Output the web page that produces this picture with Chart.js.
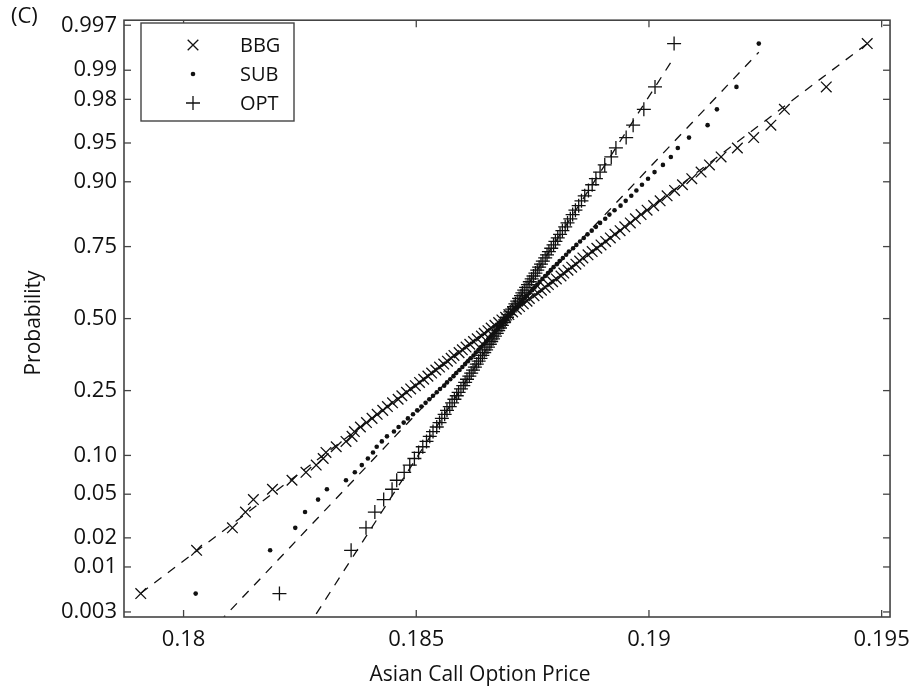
<!DOCTYPE html>
<html>
<head>
<meta charset="utf-8">
<script src="https://cdn.jsdelivr.net/npm/chart.js@4.4.1/dist/chart.umd.min.js"></script>
<style>
  body { margin: 0; background: #fff; }
  #wrap { width: 920px; height: 691px; }
</style>
</head>
<body>
<div id="wrap"><canvas id="probChart" width="920" height="691"></canvas></div>
<script>
// Sorted sample values (100 per method)
const bbgValues = [
  0.17908, 0.18028, 0.18105, 0.18133, 0.18150, 0.18191, 0.18233, 0.18263, 0.18285, 0.18300,
  0.18306, 0.18328, 0.18349, 0.18362, 0.18367, 0.18380, 0.18393, 0.18405, 0.18416, 0.18428,
  0.18438, 0.18449, 0.18461, 0.18469, 0.18479, 0.18488, 0.18498, 0.18507, 0.18516, 0.18525,
  0.18533, 0.18542, 0.18550, 0.18559, 0.18567, 0.18575, 0.18581, 0.18592, 0.18599, 0.18607,
  0.18615, 0.18623, 0.18631, 0.18640, 0.18646, 0.18654, 0.18661, 0.18669, 0.18677, 0.18684,
  0.18692, 0.18699, 0.18707, 0.18715, 0.18722, 0.18730, 0.18738, 0.18743, 0.18753, 0.18761,
  0.18769, 0.18777, 0.18784, 0.18793, 0.18801, 0.18811, 0.18817, 0.18826, 0.18834, 0.18843,
  0.18851, 0.18858, 0.18869, 0.18878, 0.18888, 0.18897, 0.18907, 0.18917, 0.18927, 0.18938,
  0.18948, 0.18960, 0.18971, 0.18983, 0.18996, 0.19010, 0.19024, 0.19039, 0.19055, 0.19072,
  0.19092, 0.19112, 0.19130, 0.19155, 0.19190, 0.19225, 0.19262, 0.19291, 0.19381, 0.19469
];
const subValues = [
  0.18026, 0.18186, 0.18240, 0.18261, 0.18289, 0.18308, 0.18349, 0.18368, 0.18383, 0.18396,
  0.18407, 0.18415, 0.18426, 0.18437, 0.18452, 0.18462, 0.18473, 0.18482, 0.18493, 0.18502,
  0.18511, 0.18520, 0.18528, 0.18536, 0.18544, 0.18551, 0.18560, 0.18566, 0.18573, 0.18580,
  0.18586, 0.18593, 0.18599, 0.18605, 0.18611, 0.18617, 0.18623, 0.18628, 0.18634, 0.18639,
  0.18645, 0.18650, 0.18655, 0.18661, 0.18666, 0.18671, 0.18676, 0.18681, 0.18687, 0.18692,
  0.18696, 0.18701, 0.18707, 0.18712, 0.18717, 0.18722, 0.18727, 0.18733, 0.18738, 0.18743,
  0.18749, 0.18754, 0.18760, 0.18765, 0.18771, 0.18777, 0.18783, 0.18789, 0.18795, 0.18802,
  0.18808, 0.18815, 0.18822, 0.18828, 0.18837, 0.18844, 0.18852, 0.18860, 0.18868, 0.18877,
  0.18886, 0.18895, 0.18906, 0.18915, 0.18926, 0.18939, 0.18950, 0.18962, 0.18973, 0.18985,
  0.18998, 0.19012, 0.19030, 0.19047, 0.19062, 0.19086, 0.19126, 0.19146, 0.19188, 0.19236
];
const optValues = [
  0.18206, 0.18360, 0.18392, 0.18411, 0.18430, 0.18448, 0.18458, 0.18474, 0.18486, 0.18496,
  0.18505, 0.18514, 0.18522, 0.18529, 0.18536, 0.18544, 0.18550, 0.18555, 0.18561, 0.18566,
  0.18572, 0.18577, 0.18582, 0.18587, 0.18591, 0.18596, 0.18601, 0.18605, 0.18609, 0.18614,
  0.18618, 0.18622, 0.18626, 0.18630, 0.18634, 0.18638, 0.18642, 0.18646, 0.18650, 0.18654,
  0.18658, 0.18661, 0.18665, 0.18669, 0.18673, 0.18676, 0.18680, 0.18684, 0.18688, 0.18691,
  0.18695, 0.18698, 0.18702, 0.18706, 0.18710, 0.18713, 0.18717, 0.18721, 0.18725, 0.18728,
  0.18732, 0.18736, 0.18740, 0.18744, 0.18748, 0.18752, 0.18756, 0.18760, 0.18764, 0.18768,
  0.18772, 0.18777, 0.18781, 0.18785, 0.18790, 0.18795, 0.18799, 0.18804, 0.18809, 0.18814,
  0.18820, 0.18825, 0.18831, 0.18836, 0.18842, 0.18849, 0.18855, 0.18862, 0.18870, 0.18878,
  0.18886, 0.18895, 0.18905, 0.18919, 0.18929, 0.18951, 0.18966, 0.18989, 0.19013, 0.19054
];

const seriesNames = ['BBG', 'SUB', 'OPT'];
const yTickProbs = [0.003, 0.01, 0.02, 0.05, 0.10, 0.25, 0.50, 0.75, 0.90, 0.95, 0.98, 0.99, 0.997];
const yTickLabels = ['0.003', '0.01', '0.02', '0.05', '0.10', '0.25', '0.50', '0.75', '0.90', '0.95', '0.98', '0.99', '0.997'];
const xTicks = [0.18, 0.185, 0.19, 0.195];
const xTickLabels = ['0.18', '0.185', '0.19', '0.195'];

const FONT = "'Open Sans', 'DejaVu Sans', sans-serif";
const INK = '#111';

// inverse normal cdf (Acklam)
function probit(p) {
  const a = [-3.969683028665376e+01, 2.209460984245205e+02, -2.759285104469687e+02, 1.383577518672690e+02, -3.066479806614716e+01, 2.506628277459239e+00];
  const b = [-5.447609879822406e+01, 1.615858368580409e+02, -1.556989798598866e+02, 6.680131188771972e+01, -1.328068155288572e+01];
  const c = [-7.784894002430293e-03, -3.223964580411365e-01, -2.400758277161838e+00, -2.549732539343734e+00, 4.374664141464968e+00, 2.938163982698783e+00];
  const d = [7.784695709041462e-03, 3.224671290700398e-01, 2.445134137142996e+00, 3.754408661907416e+00];
  const pl = 0.02425;
  if (p < pl) {
    const q = Math.sqrt(-2 * Math.log(p));
    return (((((c[0]*q+c[1])*q+c[2])*q+c[3])*q+c[4])*q+c[5]) / ((((d[0]*q+d[1])*q+d[2])*q+d[3])*q+1);
  }
  if (p > 1 - pl) {
    const q = Math.sqrt(-2 * Math.log(1 - p));
    return -(((((c[0]*q+c[1])*q+c[2])*q+c[3])*q+c[4])*q+c[5]) / ((((d[0]*q+d[1])*q+d[2])*q+d[3])*q+1);
  }
  const q = p - 0.5, r = q * q;
  return (((((a[0]*r+a[1])*r+a[2])*r+a[3])*r+a[4])*r+a[5])*q / (((((b[0]*r+b[1])*r+b[2])*r+b[3])*r+b[4])*r+1);
}

// plotting positions (i-0.5)/n on the probit scale
function toPoints(values) {
  const n = values.length;
  return values.map((v, i) => ({ x: v, y: probit((i + 0.5) / n) }));
}

// reference line through the 1st and 3rd quartiles, spanning the data range
function quartileLine(values) {
  const n = values.length;
  const pct = (p) => {
    const pos = p * n - 0.5;
    const lo = Math.floor(pos), f = pos - lo;
    return values[lo] * (1 - f) + values[lo + 1] * f;
  };
  const q1 = pct(0.25), q3 = pct(0.75);
  const z1 = probit(0.25), z3 = probit(0.75);
  const k = (z3 - z1) / (q3 - q1);
  const xa = values[0], xb = values[n - 1];
  return [{ x: xa, y: z1 + (xa - q1) * k }, { x: xb, y: z1 + (xb - q1) * k }];
}

const markers = [
  { style: 'crossRot', radius: 7.5, width: 1.3 },
  { style: 'circle', radius: 2.3, width: 0 },
  { style: 'cross', radius: 7, width: 1.3 }
];
const allValues = [bbgValues, subValues, optValues];

const datasets = [];
allValues.forEach((vals, i) => {
  datasets.push({
    label: seriesNames[i] + ' fit',
    data: quartileLine(vals),
    showLine: true,
    borderColor: INK,
    borderWidth: 1.3,
    borderDash: [9, 8],
    pointRadius: 0,
    fill: false
  });
});
allValues.forEach((vals, i) => {
  datasets.push({
    label: seriesNames[i],
    data: toPoints(vals),
    pointStyle: markers[i].style,
    pointRadius: markers[i].radius,
    pointBorderWidth: markers[i].width,
    pointBorderColor: INK,
    pointBackgroundColor: INK,
    showLine: false
  });
});

function strokeLine(ctx, x1, y1, x2, y2) {
  ctx.beginPath();
  ctx.moveTo(x1, y1);
  ctx.lineTo(x2, y2);
  ctx.stroke();
}

function drawMarker(ctx, style, x, y, r) {
  ctx.beginPath();
  if (style === 'circle') {
    ctx.arc(x, y, r, 0, Math.PI * 2);
    ctx.fill();
    return;
  }
  if (style === 'cross') {
    ctx.moveTo(x - r, y); ctx.lineTo(x + r, y);
    ctx.moveTo(x, y - r); ctx.lineTo(x, y + r);
  } else {
    const h = r * Math.SQRT1_2;
    ctx.moveTo(x - h, y - h); ctx.lineTo(x + h, y + h);
    ctx.moveTo(x - h, y + h); ctx.lineTo(x + h, y - h);
  }
  ctx.stroke();
}

const framePlugin = {
  id: 'frame',
  afterDraw(chart) {
    const { ctx, chartArea: a, scales } = chart;
    ctx.save();
    ctx.strokeStyle = '#444';
    ctx.lineWidth = 1.6;
    ctx.strokeRect(a.left, a.top, a.right - a.left, a.bottom - a.top);

    // inward ticks on all four sides
    ctx.lineWidth = 1.3;
    scales.y.ticks.forEach(t => {
      const py = scales.y.getPixelForValue(t.value);
      strokeLine(ctx, a.left, py, a.left + 7, py);
      strokeLine(ctx, a.right, py, a.right - 7, py);
    });
    scales.x.ticks.forEach(t => {
      const px = scales.x.getPixelForValue(t.value);
      strokeLine(ctx, px, a.bottom, px, a.bottom - 7);
      strokeLine(ctx, px, a.top, px, a.top + 7);
    });

    // legend box
    const lx = 141, ly = 23, lw = 153, lh = 98;
    ctx.fillStyle = '#fff';
    ctx.fillRect(lx, ly, lw, lh);
    ctx.strokeStyle = '#444';
    ctx.lineWidth = 1.4;
    ctx.strokeRect(lx, ly, lw, lh);
    ctx.font = '20px ' + FONT;
    ctx.textBaseline = 'middle';
    ctx.textAlign = 'left';
    seriesNames.forEach((name, i) => {
      const yy = ly + 22 + i * 29;
      ctx.strokeStyle = INK;
      ctx.fillStyle = INK;
      ctx.lineWidth = 1.3;
      drawMarker(ctx, markers[i].style, lx + 52, yy, markers[i].radius);
      ctx.fillText(name, lx + 99, yy + 1);
    });

    // axis titles and panel label
    ctx.fillStyle = INK;
    ctx.font = '21px ' + FONT;
    ctx.textAlign = 'center';
    ctx.fillText('Asian Call Option Price', 480, 675);
    ctx.save();
    ctx.translate(34, 323);
    ctx.rotate(-Math.PI / 2);
    ctx.fillText('Probability', 0, 0);
    ctx.restore();
    ctx.textAlign = 'left';
    ctx.font = '22px ' + FONT;
    ctx.fillText('(C)', 11, 17);
    ctx.restore();
  }
};

new Chart(document.getElementById('probChart'), {
  type: 'scatter',
  data: { datasets: datasets },
  plugins: [framePlugin],
  options: {
    responsive: false,
    animation: false,
    layout: { padding: { top: 12, right: 27, left: 0, bottom: 0 } },
    plugins: { legend: { display: false }, tooltip: { enabled: false } },
    scales: {
      x: {
        type: 'linear',
        min: 0.17872,
        max: 0.19518,
        afterBuildTicks: (axis) => { axis.ticks = xTicks.map(v => ({ value: v })); },
        afterFit: (scale) => { scale.height = 74; },
        grid: { display: false, drawTicks: false },
        border: { display: false },
        ticks: {
          autoSkip: false,
          maxRotation: 0,
          padding: 10,
          color: INK,
          font: { size: 22, family: FONT },
          callback: (v, i) => xTickLabels[i]
        }
      },
      y: {
        type: 'linear',
        min: -2.795,
        max: 2.795,
        afterBuildTicks: (axis) => { axis.ticks = yTickProbs.map(p => ({ value: probit(p) })); },
        afterFit: (scale) => { scale.width = 124; },
        grid: { display: false, drawTicks: false },
        border: { display: false },
        ticks: {
          autoSkip: false,
          padding: 7,
          color: INK,
          font: { size: 22, family: FONT },
          callback: (v, i) => yTickLabels[i]
        }
      }
    }
  }
});
</script>
</body>
</html>
